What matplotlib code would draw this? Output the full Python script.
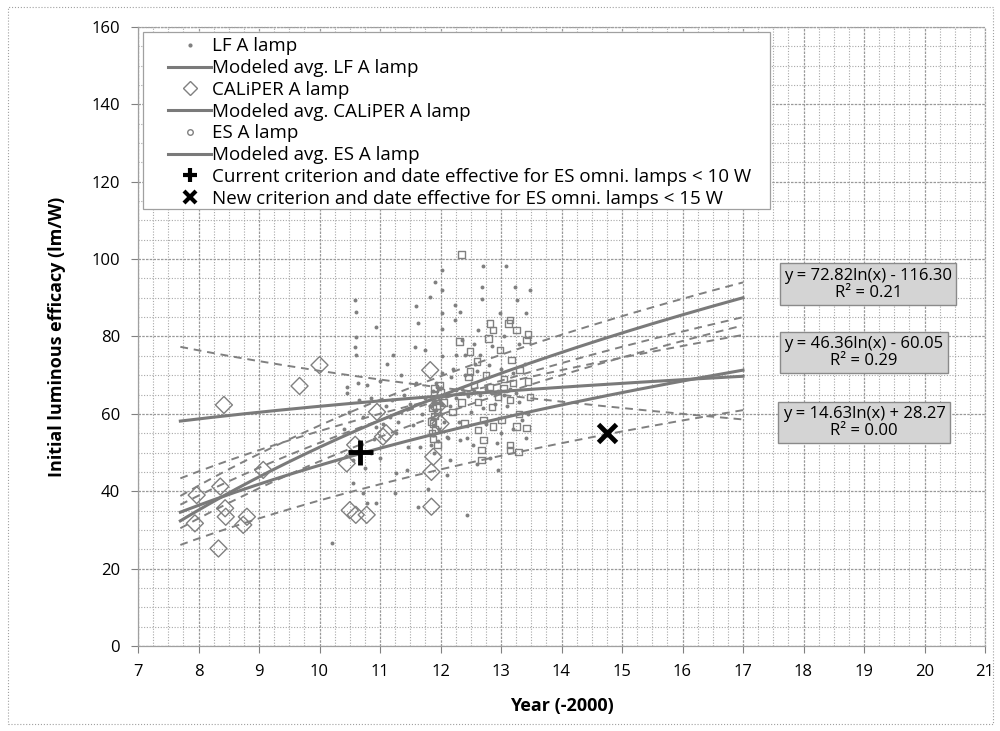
import numpy as np
import matplotlib
matplotlib.use('Agg')
import matplotlib.pyplot as plt
from matplotlib.patches import Rectangle
from matplotlib.lines import Line2D

plt.rcParams['font.family'] = ['Open Sans', 'DejaVu Sans']

# CALiPER A lamp (open diamonds)
cal_x = [7.97, 7.94, 8.36, 8.42, 8.33, 8.44, 8.45, 8.74, 8.80, 9.07, 9.67, 10.0,
         10.50, 10.60, 10.78, 10.45, 10.95, 11.05, 11.83, 11.85, 11.85, 11.88,
         10.59, 11.95, 12.0, 11.10]
cal_y = [39.0, 31.7, 41.2, 62.3, 25.2, 35.6, 33.4, 31.3, 33.4, 45.5, 67.2, 72.6,
         35.1, 33.9, 33.9, 47.2, 60.5, 54.1, 71.3, 45.0, 36.0, 48.9,
         52.0, 62.0, 57.5, 55.0]

# LF A lamp (small filled dots)
lf_x = [10.20, 10.56, 10.72, 10.78, 10.94, 11.25, 11.27, 11.63, 10.59, 10.61,
        10.61, 10.59, 10.61, 10.94, 11.11, 11.22, 10.45, 10.64, 10.78, 11.58,
        11.91, 11.83, 12.02, 12.02, 12.02, 12.02, 12.02, 11.63, 11.74, 10.45,
        10.72, 10.94, 11.16, 11.30, 11.27, 11.47, 11.66, 12.10, 12.10, 12.71,
        13.09, 12.68, 13.23, 13.48, 12.68, 13.26, 12.24, 12.98, 13.42, 12.32,
        12.24, 12.62, 12.26, 12.40, 12.65, 12.57, 12.18, 12.26, 12.13, 12.32,
        12.43, 12.54, 12.43, 12.93, 13.42, 12.82,
        10.50, 10.55, 10.68, 10.75, 10.85, 10.90, 11.00, 11.05, 11.10, 11.20,
        11.35, 11.40, 11.50, 11.55, 11.70, 11.75, 10.40, 10.48, 10.65, 10.85,
        11.00, 11.35, 11.60, 11.45, 11.80,
        11.85, 11.88, 11.90, 11.86, 11.92, 11.88, 11.95, 11.87, 11.93, 11.98,
        12.00, 12.03, 11.90, 11.96, 12.05, 11.84, 11.97, 12.02,
        12.15, 12.25, 12.35, 12.45, 12.55, 12.65, 12.75, 12.85, 12.95, 13.05,
        13.15, 13.25, 12.30, 12.50, 12.70, 12.90, 13.10, 13.30, 13.45, 12.20,
        12.40, 12.60, 12.80, 13.00, 13.20, 13.40, 12.35, 12.55, 12.85, 13.05,
        13.30, 12.15, 12.60, 13.20, 13.00, 12.75, 12.95, 13.35, 11.60]
lf_y = [26.5, 42.0, 39.5, 36.9, 36.9, 39.5, 44.6, 36.0, 89.4, 86.4,
        79.9, 77.3, 75.2, 82.5, 73.0, 75.2, 67.0, 67.9, 67.4, 77.3,
        94.1, 90.2, 97.2, 92.0, 86.0, 82.0, 75.0, 83.4, 76.5, 65.3,
        59.2, 56.7, 59.2, 58.0, 55.0, 51.5, 51.5, 54.1, 44.2, 98.1,
        98.1, 92.9, 92.9, 92.0, 89.8, 89.4, 84.2, 86.0, 86.0, 86.4,
        88.1, 81.7, 75.2, 75.2, 75.2, 73.0, 69.6, 66.1, 53.7, 53.2,
        53.7, 51.9, 33.9, 52.4, 53.7, 48.5,
        50.5, 48.0, 52.5, 46.0, 50.0, 53.5, 48.5, 57.5, 62.0, 63.5,
        60.5, 65.0, 62.5, 57.0, 60.0, 64.0, 56.0, 60.5, 63.5, 64.0,
        68.5, 70.0, 68.0, 45.5, 40.5,
        52.0, 54.5, 57.0, 59.0, 61.0, 63.0, 64.5, 66.0, 68.0, 56.0,
        60.0, 62.5, 50.0, 53.0, 58.0, 62.0, 66.5, 70.5,
        62.0, 64.0, 66.5, 64.5, 66.0, 65.0, 66.5, 65.5, 66.0, 65.0,
        66.5, 65.5, 58.0, 60.5, 61.5, 62.5, 62.0, 63.0, 60.0, 71.5,
        70.0, 71.0, 72.5, 71.5, 70.5, 73.0, 79.0, 78.0, 77.5, 80.0,
        78.0, 48.0, 47.0, 56.0, 55.0, 57.5, 45.5, 58.5, 88.0]

# ES A lamp (small open markers)
es_x = [12.35, 12.82, 12.87, 13.12, 13.26, 13.42, 13.45, 12.31, 12.79, 12.49,
        12.98, 13.17, 12.49, 12.46, 12.82, 13.04, 13.45, 13.48, 13.15, 12.62,
        12.85, 12.71, 12.87, 13.01, 13.26, 13.42, 12.62, 12.71, 12.68, 13.15,
        13.29, 13.15, 12.68, 13.31, 13.15,
        11.86, 11.88, 11.90, 11.87, 11.92, 11.89, 11.94, 11.91, 11.85, 11.93,
        11.96, 11.88, 11.90, 12.00, 11.95, 12.05, 11.98,
        12.20, 12.35, 12.55, 12.40, 12.60, 12.75, 13.05, 13.30, 12.95, 13.20]
es_y = [101.2, 83.4, 81.7, 83.4, 81.7, 79.1, 80.5, 78.7, 79.5, 76.1,
        76.5, 73.9, 70.9, 69.5, 67.0, 66.6, 68.3, 64.4, 63.6, 63.1,
        61.8, 58.4, 56.7, 58.4, 56.7, 56.3, 55.8, 53.2, 50.6, 50.6,
        50.2, 51.9, 48.1, 71.3, 84.2,
        55.0, 57.5, 59.5, 61.5, 63.5, 65.0, 60.5, 56.0, 58.0, 62.0,
        64.0, 53.5, 66.5, 65.5, 52.0, 63.0, 67.5,
        60.5, 63.0, 67.5, 57.5, 73.5, 70.0, 69.0, 60.0, 64.5, 68.0]

# modeled averages: y = a ln(x) + b, as given on the chart
fit_a = [72.82, 46.36, 14.63]
fit_b = [-116.30, -60.05, 28.27]
fit_r2 = [0.21, 0.29, 0.00]
# dashed bounds (y = a ln(x) + b)
band_a = [-23.7, 46.8, 69.7, 44.0, 61.2, 66.2]
band_b = [125.7, -52.2, -103.5, -63.7, -88.4, -104.7]
fit_x0, fit_x1 = 7.7, 17.0

current_pt = (10.67, 50.2)
new_pt = (14.75, 55.1)

gray = '#808080'
fig = plt.figure(figsize=(10, 7.31), dpi=100)
ax = fig.add_axes([0.138, 0.1163, 0.847, 0.8468])

xs = np.linspace(fit_x0, fit_x1, 200)
for a, b in zip(band_a, band_b):
    ax.plot(xs, a * np.log(xs) + b, color=gray, lw=1.4, ls=(0, (4, 3)), zorder=3)
for a, b in zip(fit_a, fit_b):
    ax.plot(xs, a * np.log(xs) + b, color='#7a7a7a', lw=2.2, zorder=4)

ax.scatter(lf_x, lf_y, s=8, color=gray, marker='o', zorder=5, linewidths=0)
ax.scatter(es_x, es_y, s=22, facecolors='none', edgecolors=gray, marker='s',
           linewidths=1.0, zorder=5)
ax.scatter(cal_x, cal_y, s=75, facecolors='none', edgecolors=gray, marker='D',
           linewidths=1.0, zorder=5)
ax.plot(*current_pt, marker='+', color='black', markersize=18, zorder=7,
        markeredgewidth=3.5)
ax.plot(*new_pt, marker='x', color='black', markersize=13, zorder=7,
        markeredgewidth=3.5)

ax.set_xlim(7, 21)
ax.set_ylim(0, 160)
ax.set_xticks(range(7, 22))
ax.set_yticks(range(0, 161, 20))
ax.set_xticks(np.arange(7, 21.01, 0.25), minor=True)
ax.set_yticks(range(0, 161, 5), minor=True)
ax.grid(which='major', color='#999999', lw=0.9, ls=(0, (2, 1)))
ax.grid(which='minor', color='#a8a8a8', lw=0.8, ls=(0, (1, 1.5)))
ax.set_axisbelow(True)
ax.tick_params(which='minor', length=0)
ax.tick_params(which='major', length=5, color=gray, labelsize=12, pad=8)
for s in ['left', 'bottom', 'top', 'right']:
    ax.spines[s].set_color('#a0a0a0')
    ax.spines[s].set_linewidth(0.9)
ax.spines['top'].set_linestyle(':')
ax.spines['right'].set_linestyle(':')

ax.set_xlabel('Year (-2000)', fontsize=13, fontweight='bold', labelpad=12)
ax.set_ylabel('Initial luminous efficacy (lm/W)', fontsize=13, fontweight='bold',
              labelpad=18)

# equation boxes
eq_pos = [(19.07, 93.5), (19.0, 75.8), (19.0, 57.8)]
for a, b, r2, (px, py) in zip(fit_a, fit_b, fit_r2, eq_pos):
    sign = '-' if b < 0 else '+'
    txt = 'y = %.2fln(x) %s %.2f\nR\u00b2 = %.2f' % (a, sign, abs(b), r2)
    ax.text(px, py, txt, ha='center', va='center', fontsize=12, zorder=8,
            linespacing=1.1,
            bbox=dict(boxstyle='square,pad=0.25', fc='#d4d4d4', ec='#8a8a8a', lw=1))

# legend frame drawn separately so the handles sit inset like the original
ax.add_patch(Rectangle((0.006, 0.706), 0.74, 0.286, transform=ax.transAxes,
                       fc='white', ec='#a0a0a0', lw=0.9, zorder=8))
handles = [
    Line2D([], [], ls='none', marker='o', markersize=3, color=gray, markeredgewidth=0),
    Line2D([], [], color='#7a7a7a', lw=2.2),
    Line2D([], [], ls='none', marker='D', markersize=7, mfc='none', mec=gray, mew=1),
    Line2D([], [], color='#7a7a7a', lw=2.2),
    Line2D([], [], ls='none', marker='o', markersize=4, mfc='none', mec=gray, mew=1),
    Line2D([], [], color='#7a7a7a', lw=2.2),
    Line2D([], [], ls='none', marker='+', markersize=10, color='black', markeredgewidth=3),
    Line2D([], [], ls='none', marker='x', markersize=8, color='black', markeredgewidth=3),
]
labels = ['LF A lamp', 'Modeled avg. LF A lamp', 'CALiPER A lamp',
          'Modeled avg. CALiPER A lamp', 'ES A lamp', 'Modeled avg. ES A lamp',
          'Current criterion and date effective for ES omni. lamps < 10 W',
          'New criterion and date effective for ES omni. lamps < 15 W']
leg = ax.legend(handles, labels, loc='upper left', bbox_to_anchor=(0.0354, 0.983),
                fontsize=13.5, frameon=False, labelspacing=0.2, handlelength=2.3,
                handletextpad=0.05, borderpad=0, borderaxespad=0)
leg.set_zorder(9)

fig.patches.append(Rectangle((0.008, 0.01), 0.985, 0.98, transform=fig.transFigure,
                             fill=False, ec='#a0a0a0', lw=0.8, ls=':'))

fig.savefig('out.png', dpi=100)
